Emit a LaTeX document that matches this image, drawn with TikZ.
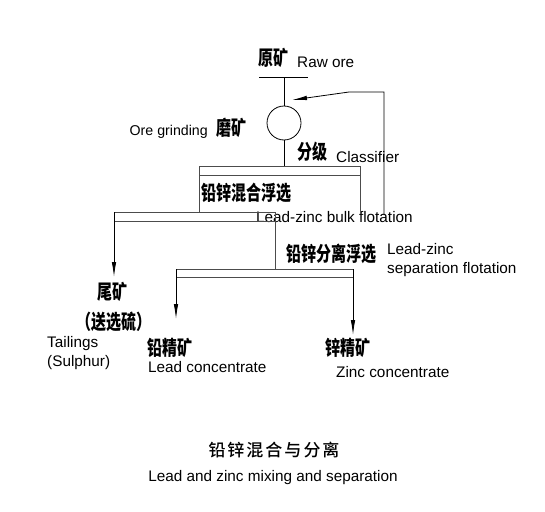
\documentclass[tikz,border=0pt]{standalone}
\usepackage{fontspec}
\setmainfont{Liberation Sans}
\newfontfamily\cjk{Noto Sans CJK SC Black}
\newfontfamily\cjkm{Noto Sans CJK SC Medium}
\usetikzlibrary{arrows.meta}
\newcommand\tallcn[1]{\scalebox{1}[1.35]{#1}}
\tikzset{
  cn/.style={font=\cjk\fontsize{15}{15}\selectfont, inner sep=0pt},
  en/.style={font=\fontsize{15.3}{17}\selectfont, inner sep=0pt, anchor=base west},
  ln/.style={draw=black, line width=0.8pt},
  bar/.style={draw=black!70, line width=0.9pt},
  arr/.style={-{Latex[length=15pt,width=4.5pt]}},
}
\begin{document}
\begin{tikzpicture}[x=1pt,y=-1pt]
\useasboundingbox (0,0) rectangle (545,511);
% labels
\node[cn] (raw) at (273,58) {\tallcn{原矿}};
\node[en] (rawen) at (297,67) {Raw ore};
\node[cn] (grind) at (231,128) {\tallcn{磨矿}};
\node[en, anchor=base east, font=\fontsize{14.2}{17}\selectfont] (grinden) at (208,135) {Ore grinding};
\node[cn] (cls) at (312,152) {\tallcn{分级}};
\node[en] (clsen) at (336,162) {Classifier};
\node[cn] (bulk) at (246,193) {\tallcn{铅锌混合浮选}};
\node[en] (bulken) at (256,222) {Lead-zinc bulk flotation};
\node[cn] (sep) at (331,254) {\tallcn{铅锌分离浮选}};
\node[en, align=left, anchor=north west, font=\fontsize{15.3}{18.5}\selectfont] (sepen) at (387,243.5) {Lead-zinc\\separation flotation};
\node[cn] (tail) at (112,292) {\tallcn{尾矿}};
\node[cn] (tail2) at (114,322) {\tallcn{（送选硫）}};
\node[en, align=left, anchor=north west, font=\fontsize{15.3}{19}\selectfont] (tailen) at (47,336.5) {Tailings\\(Sulphur)};
\node[cn] (pb) at (170,348) {\tallcn{铅精矿}};
\node[en] (pben) at (148,372) {Lead concentrate};
\node[cn] (zn) at (348,348) {\tallcn{锌精矿}};
\node[en] (znen) at (336,377) {Zinc concentrate};
\node[inner sep=0pt, font=\cjkm\fontsize{17}{17}\selectfont] (title) at (274,450)
  {铅\hspace{2pt}锌\hspace{2pt}混\hspace{2pt}合\hspace{2pt}与\hspace{2pt}分\hspace{2pt}离};
\node[inner sep=0pt, font=\fontsize{15.3}{17}\selectfont] (subtitle) at (273,478)
  {Lead and zinc mixing and separation};
% feed and mill
\coordinate (feedL) at (259,77);
\coordinate (feedR) at (308,77);
\coordinate (feedM) at (284,77);
\draw[ln] (feedL) -- (feedR);
\node[circle, draw, line width=0.8pt, minimum size=34pt, inner sep=0pt] (mill) at (284,123) {};
\draw[ln] (feedM) -- (mill.north);
\coordinate (bulkTop) at (284,166);
\draw[ln] (mill.south) -- (bulkTop);
% bulk flotation cell
\coordinate (b1) at (199,212);
\coordinate (b2) at (199,166);
\coordinate (b3) at (360,166);
\coordinate (b4) at (360,214);
\draw[bar] (b1) -- (b2) -- (b3) -- (b4);
\coordinate (b5) at (199,175);
\coordinate (b6) at (360,175);
\draw[bar] (b5) -- (b6);
% recycle line
\coordinate (r1) at (384,215);
\coordinate (r2) at (384,92);
\coordinate (r3) at (349,92);
\coordinate (r4) at (292,100);
\draw[ln, arr] (r1) -- (r2) -- (r3) -- (r4);
% split bar after bulk flotation
\coordinate (t1) at (114,212);
\coordinate (t2) at (275,212);
\coordinate (t3) at (275,269);
\coordinate (t4) at (114,221);
\coordinate (t5) at (275,221);
\coordinate (ttip) at (114,277);
\draw[bar] (t1) -- (t2) -- (t3);
\draw[bar] (t4) -- (t5);
\draw[ln, arr] (t1) -- (ttip);
% separation bar
\coordinate (s1) at (176,269);
\coordinate (s2) at (353,269);
\coordinate (s3) at (176,277);
\coordinate (s4) at (353,277);
\coordinate (pbtip) at (176,319);
\coordinate (zntip) at (353,335);
\draw[bar] (s1) -- (s2);
\draw[bar] (s3) -- (s4);
\draw[ln, arr] (s1) -- (pbtip);
\draw[ln, arr] (s2) -- (zntip);
\end{tikzpicture}
\end{document}
